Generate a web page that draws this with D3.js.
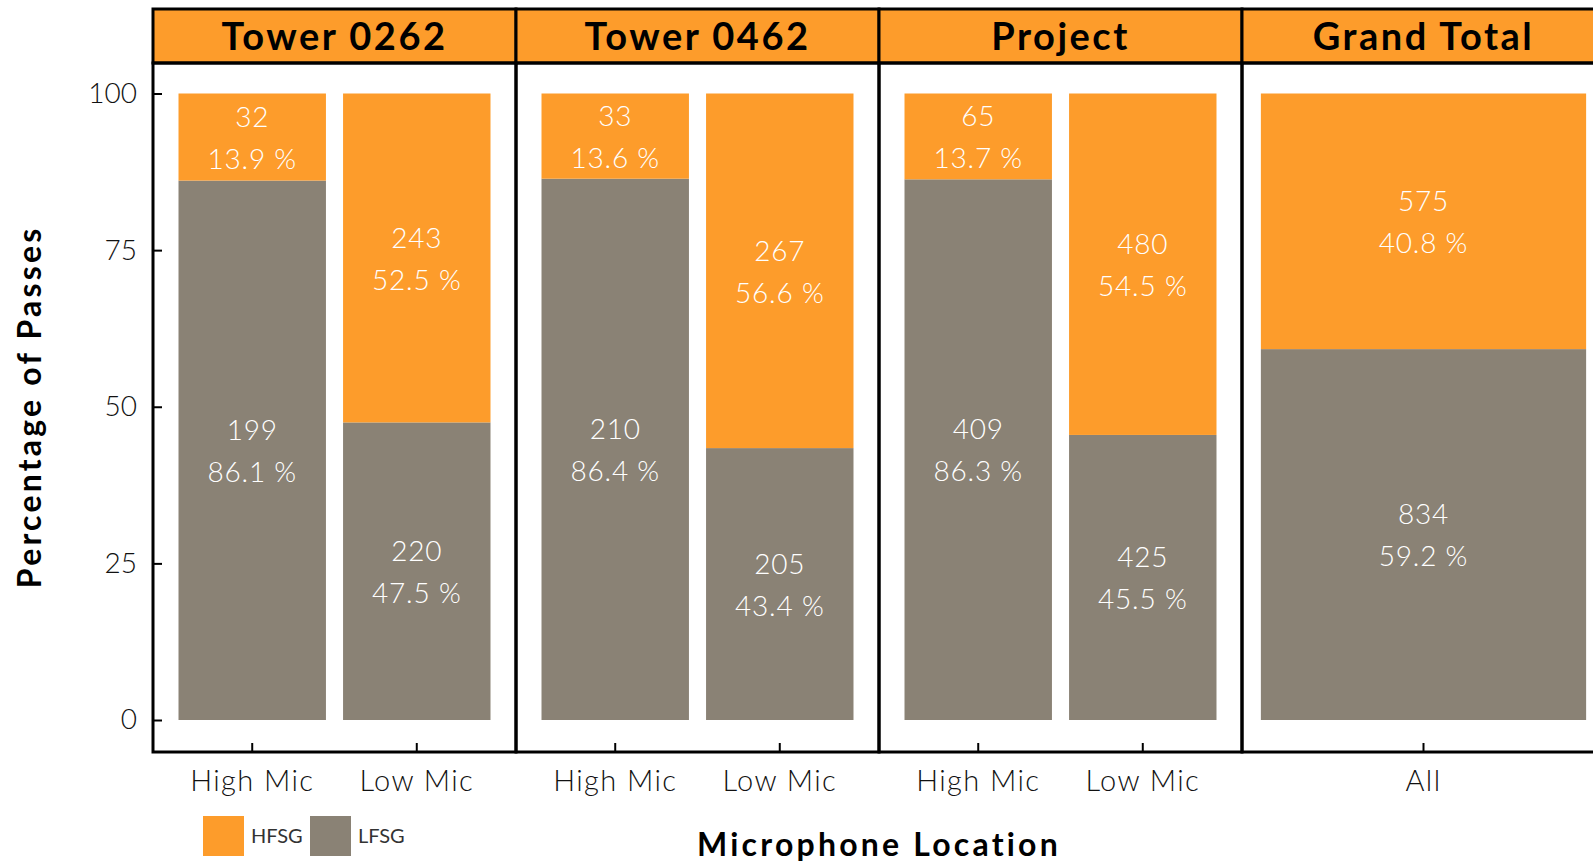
<!DOCTYPE html>
<html>
<head>
<meta charset="utf-8">
<script src="https://cdn.jsdelivr.net/npm/d3@7"></script>
<style>
  body { margin: 0; background: #fff; }
  svg text { font-family: "Lato", "Open Sans", sans-serif; }
</style>
</head>
<body>
<svg id="chart" width="1593" height="864"></svg>
<script>
!(function (d3) {

  // data
  var panels = ["Tower 0262", "Tower 0462", "Project", "Grand Total"];
  var locations = [["High Mic", "Low Mic"], ["High Mic", "Low Mic"], ["High Mic", "Low Mic"], ["All"]];
  var hfsgCount = [[32, 243], [33, 267], [65, 480], [575]];
  var lfsgCount = [[199, 220], [210, 205], [409, 425], [834]];
  var hfsgPct = [[13.9, 52.5], [13.6, 56.6], [13.7, 54.5], [40.8]];
  var lfsgPct = [[86.1, 47.5], [86.4, 43.4], [86.3, 45.5], [59.2]];
  var yTicks = [0, 25, 50, 75, 100];

  var orange = "#fd9c2b", grey = "#8a8275";

  var svg = d3.select("#chart"),
    top = 9, headH = 54, bottom = 752, panelW = 363, left = 153;

  var px = d3.scaleBand()
    .domain(panels)
    .range([left, left + panelW * panels.length]);

  var y = d3.scaleLinear()
    .domain([0, 100])
    .range([720, 93.5]);

  var fmt = d3.format(".1f");

  panels.forEach(function (name, i) {
    var g = svg.append("g").attr("transform", "translate(" + px(name) + ",0)");

    var bx = d3.scaleBand()
      .domain(locations[i])
      .range([0, panelW])
      .paddingInner(0.104)
      .paddingOuter(locations[i].length > 1 ? 0.155 : 0);

    var rows = locations[i].map(function (loc, j) {
      return { loc: loc, h: hfsgCount[i][j], l: lfsgCount[i][j], hp: hfsgPct[i][j], lp: lfsgPct[i][j] };
    });

    // LFSG at the bottom
    g.selectAll("rect.lfsg")
      .data(rows)
      .enter().append("rect")
      .attr("class", "lfsg")
      .attr("x", function (d) { return bx(d.loc); })
      .attr("width", bx.bandwidth())
      .attr("y", function (d) { return y(d.lp); })
      .attr("height", function (d) { return y(0) - y(d.lp); })
      .attr("fill", grey);

    g.selectAll("rect.hfsg")
      .data(rows)
      .enter().append("rect")
      .attr("class", "hfsg")
      .attr("x", function (d) { return bx(d.loc); })
      .attr("width", bx.bandwidth())
      .attr("y", function (d) { return y(d.lp + d.hp); })
      .attr("height", function (d) { return y(d.lp) - y(d.lp + d.hp); })
      .attr("fill", orange);

    function labels(cls, mid, count, pct) {
      var t = g.selectAll("text." + cls)
        .data(rows)
        .enter().append("text")
        .attr("class", cls)
        .attr("text-anchor", "middle")
        .attr("fill", "#fff")
        .attr("font-size", 28)
        .attr("font-weight", 300)
        .attr("letter-spacing", 0.8);
      t.append("tspan")
        .attr("x", function (d) { return bx(d.loc) + bx.bandwidth() / 2; })
        .attr("y", function (d) { return mid(d) - 20; })
        .attr("dy", "0.35em")
        .text(count);
      t.append("tspan")
        .attr("x", function (d) { return bx(d.loc) + bx.bandwidth() / 2; })
        .attr("y", function (d) { return mid(d) + 22; })
        .attr("dy", "0.35em")
        .text(function (d) { return fmt(pct(d)) + " %"; });
    }
    labels("lt", function (d) { return (y(0) + y(d.lp)) / 2; },
      function (d) { return d.l; }, function (d) { return d.lp; });
    labels("ht", function (d) { return (y(d.lp) + y(d.lp + d.hp)) / 2; },
      function (d) { return d.h; }, function (d) { return d.hp; });

    // x axis for this panel
    var xa = g.append("g")
      .attr("transform", "translate(0," + bottom + ")")
      .call(d3.axisBottom(bx).tickSizeInner(-9).tickSizeOuter(0).tickPadding(18));
    xa.select(".domain").remove();
    xa.selectAll("line").attr("stroke-width", 2);
    xa.selectAll("text").attr("font-size", 29).attr("fill", "#111")
      .attr("font-family", null).attr("font-weight", 300).attr("letter-spacing", 1.4);

    // header strip and frame
    g.append("rect")
      .attr("x", 0).attr("y", top)
      .attr("width", panelW).attr("height", headH)
      .attr("fill", orange).attr("stroke", "#000").attr("stroke-width", 3);
    g.append("text")
      .attr("x", panelW / 2).attr("y", top + headH / 2)
      .attr("dy", "0.36em")
      .attr("text-anchor", "middle")
      .attr("font-size", 38).attr("font-weight", "bold")
      .attr("letter-spacing", 2.5)
      .text(name);
    g.append("rect")
      .attr("x", 0).attr("y", top + headH)
      .attr("width", panelW).attr("height", bottom - top - headH)
      .attr("fill", "none").attr("stroke", "#000").attr("stroke-width", 3);
  });

  // y axis
  var ya = svg.append("g")
    .attr("transform", "translate(" + left + ",0)")
    .call(d3.axisLeft(y).tickValues(yTicks).tickSizeInner(-9).tickSizeOuter(0).tickPadding(16));
  ya.select(".domain").remove();
  ya.selectAll("line").attr("stroke-width", 2);
  ya.selectAll("text").attr("font-size", 28).attr("fill", "#111")
    .attr("font-family", null).attr("font-weight", 300);

  svg.append("text")
    .attr("transform", "translate(41," + y(50) + ") rotate(-90)")
    .attr("text-anchor", "middle")
    .attr("font-size", 32).attr("font-weight", "bold")
    .attr("letter-spacing", 3.2)
    .text("Percentage of Passes");

  svg.append("text")
    .attr("x", left + panelW * 2).attr("y", 856)
    .attr("text-anchor", "middle")
    .attr("font-size", 32).attr("font-weight", "bold")
    .attr("letter-spacing", 3.2)
    .text("Microphone Location");

  // legend
  var legend = [["HFSG", orange], ["LFSG", grey]];
  var lg = svg.append("g").attr("transform", "translate(203,816)");
  legend.forEach(function (d, i) {
    lg.append("rect")
      .attr("x", i * 107).attr("y", 0)
      .attr("width", 41).attr("height", 40)
      .attr("fill", d[1]);
    lg.append("text")
      .attr("x", i * 107 + 48).attr("y", 20)
      .attr("dy", "0.35em")
      .attr("font-size", 20).attr("fill", "#333")
      .text(d[0]);
  });

})(d3);
</script>
</body>
</html>
